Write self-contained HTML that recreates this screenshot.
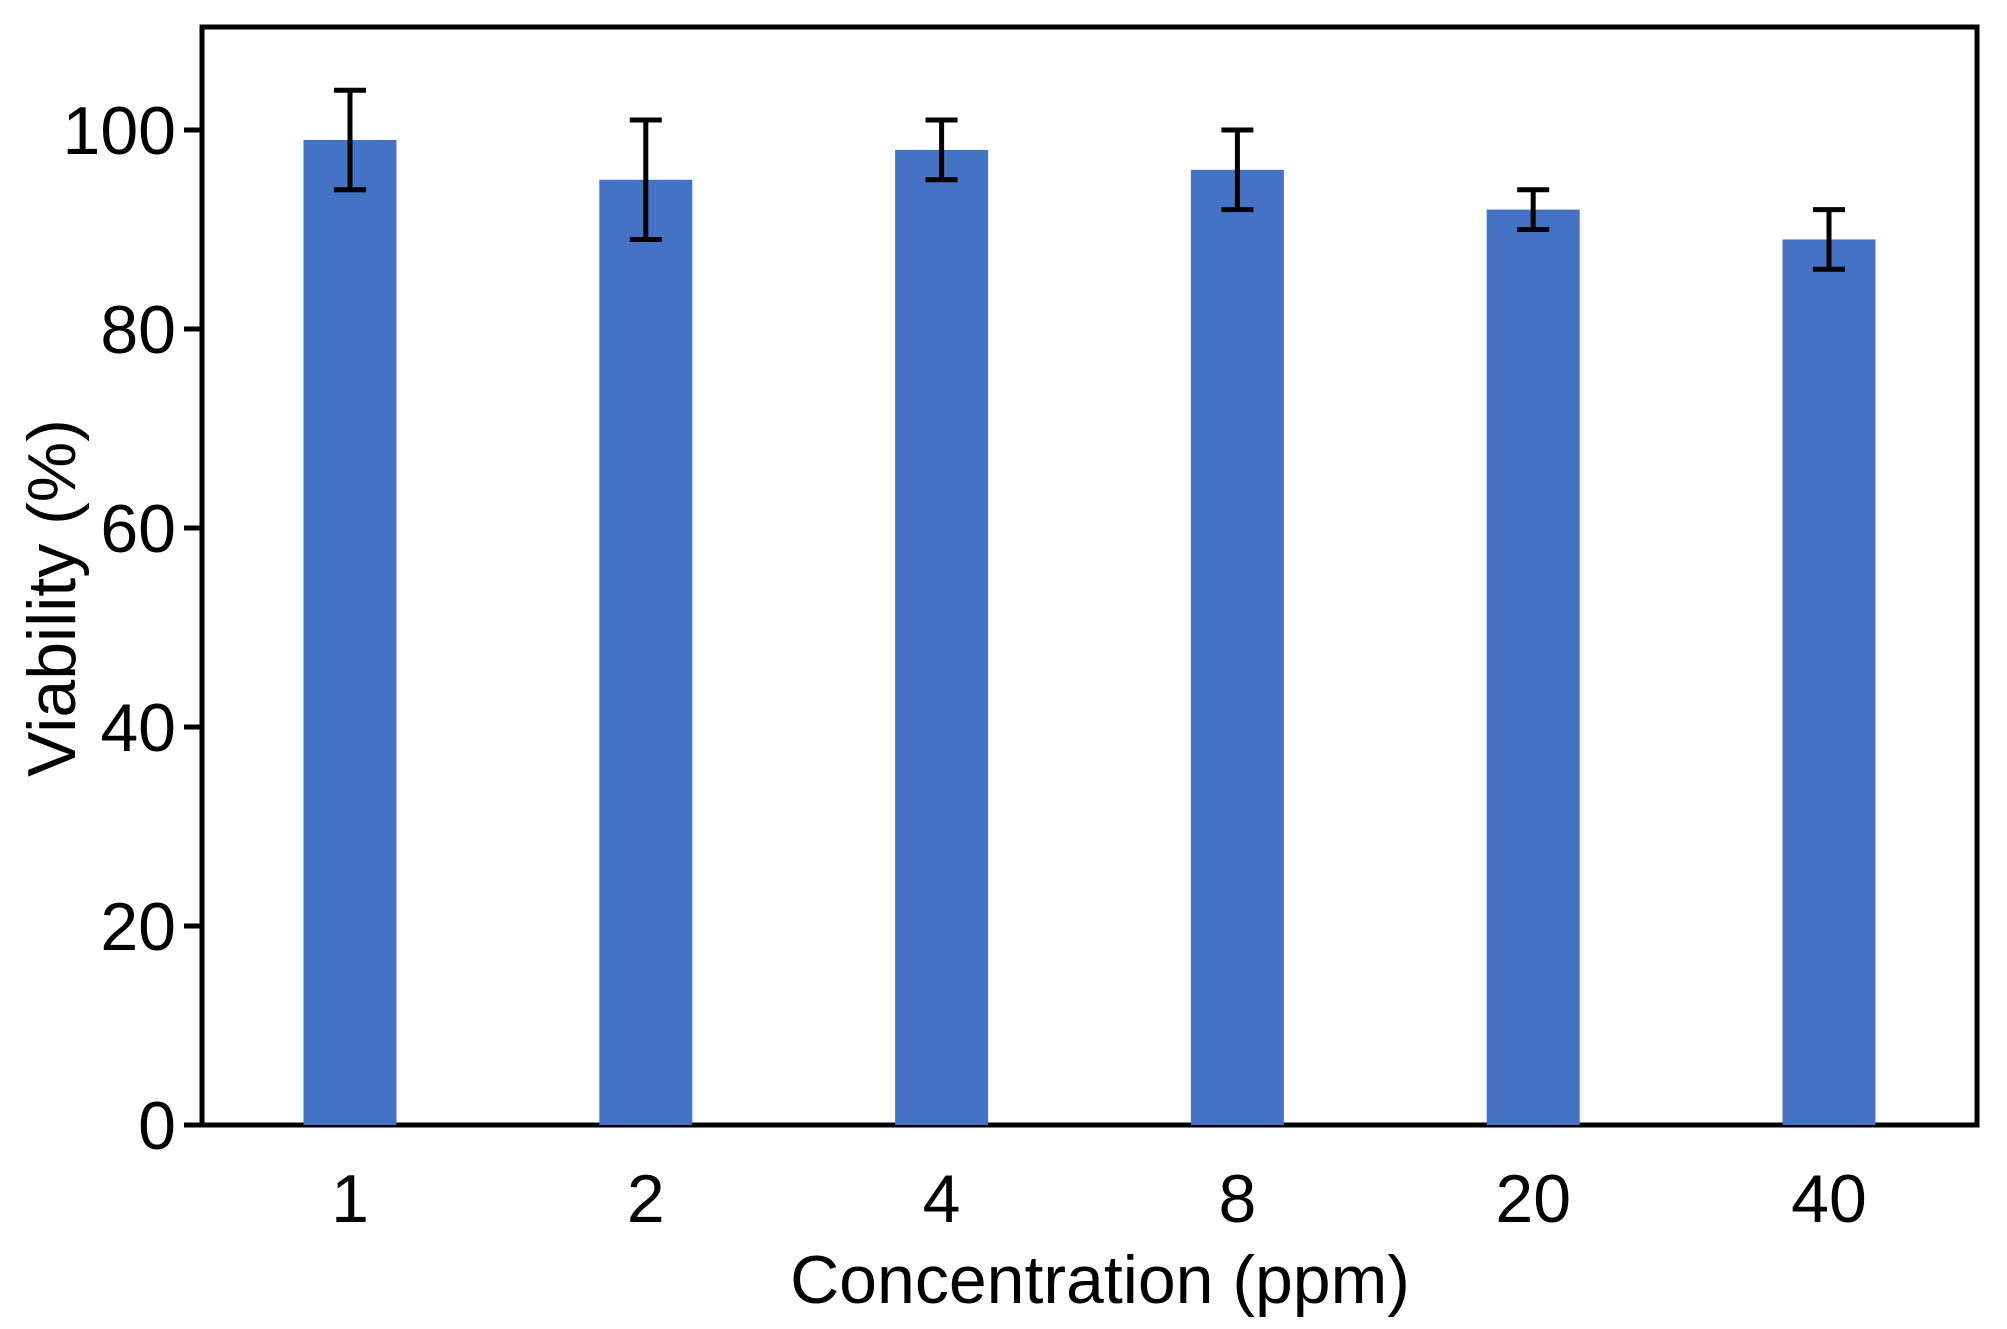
<!DOCTYPE html>
<html><head><meta charset="utf-8"><style>
html,body{margin:0;padding:0;background:#fff;}
svg{display:block;font-family:"Liberation Sans",Arial,sans-serif;}
</style></head><body>
<svg id="chart" width="2007" height="1329" viewBox="0 0 2007 1329">
<rect x="202" y="27" width="1775" height="1098" fill="none" stroke="#000" stroke-width="5"/>
<g id="bars"></g>
<g id="yticks"></g>
<g id="xticks"></g>
<text x="1100" y="1303" font-size="68" text-anchor="middle" fill="#000">Concentration (ppm)</text>
<text transform="translate(75,598) rotate(-90)" font-size="68" text-anchor="middle" fill="#000">Viability (%)</text>
</svg>
<script>
const categories = ["1","2","4","8","20","40"];
const values = [99,95,98,96,92,89];
const errors = [5,6,3,4,2,3];
const yTicks = [0,20,40,60,80,100];

const NS="http://www.w3.org/2000/svg";
const x0=350, step=295.8, barW=93;
function xPos(i){return x0+i*step;}
function yPos(v){return 1125-9.95*v;}
function mk(tag,attrs,parent){const e=document.createElementNS(NS,tag);for(const k in attrs)e.setAttribute(k,attrs[k]);parent.appendChild(e);return e;}

const bars=document.getElementById('bars');
values.forEach((v,i)=>{
  const cx=xPos(i);
  const r=mk('rect',{x:cx-barW/2,y:yPos(v),width:barW,height:yPos(0)-yPos(v),fill:'#4472c4'},bars);
  
  
  const g=mk('g',{stroke:'#000','stroke-width':5},bars);
  
  
  const hi=yPos(v+errors[i]), lo=yPos(v-errors[i]);
  mk('line',{x1:cx,x2:cx,y1:hi,y2:lo},g);
  mk('line',{x1:cx-16,x2:cx+16,y1:hi,y2:hi},g);
  mk('line',{x1:cx-16,x2:cx+16,y1:lo,y2:lo},g);
});

const yt=document.getElementById('yticks');
yTicks.forEach(t=>{
  const y=yPos(t);
  const l=mk('line',{x1:184,x2:202,y1:y,y2:y,stroke:'#000','stroke-width':5},yt);
  
  
  const tx=mk('text',{x:176,y:y+24,'font-size':68,'text-anchor':'end',fill:'#000'},yt);
  
  
  tx.textContent=t;
});

const xt=document.getElementById('xticks');
categories.forEach((c,i)=>{
  const tx=mk('text',{x:xPos(i),y:1222,'font-size':68,'text-anchor':'middle',fill:'#000'},xt);
  
  
  tx.textContent=c;
});
</script>
</body></html>
